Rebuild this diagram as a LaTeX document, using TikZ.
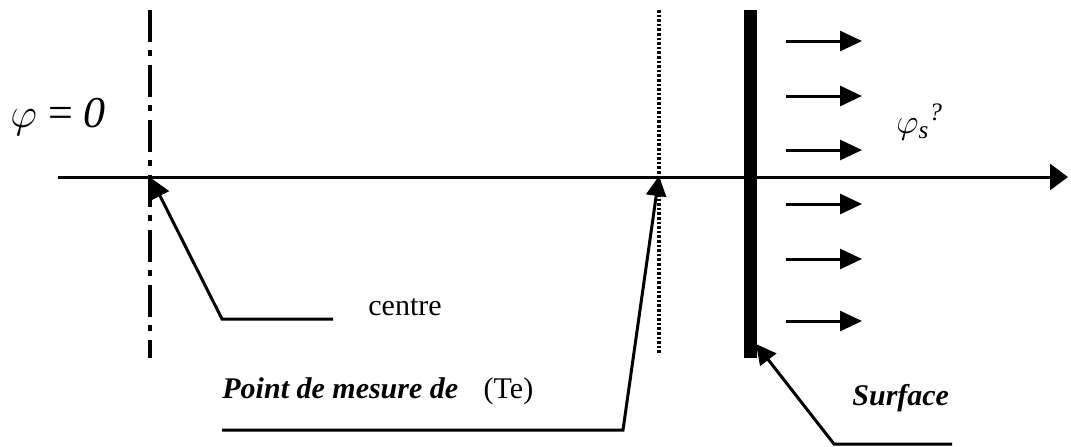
\documentclass[tikz,border=0pt]{standalone}
\usepackage{fontspec}
\setmainfont{Liberation Serif}
\usetikzlibrary{arrows.meta, positioning, calc}

\tikzset{
  axisline/.style={line width=1.5pt, -{Triangle[length=9pt,width=13pt]}},
  leader/.style={line width=1.5pt, -{Triangle[length=10pt,width=10pt]}},
  flux/.style={line width=1.5pt, -{Triangle[length=11pt,width=10pt]}},
  lbl/.style={inner sep=0pt, anchor=base west, font=\fontsize{15}{18}\selectfont},
}

\begin{document}
\begin{tikzpicture}[x=0.5pt, y=-0.5pt]
    \useasboundingbox (0,0) rectangle (1071,446);

    % Axis
    \coordinate (axstart) at (58,177);
    \coordinate (axend) at (1068,177);
    \draw[axisline] (axstart) -- (axend);

    % Centre line (dash dot)
    \coordinate (ctrtop) at (150,10);
    \coordinate (ctrbot) at (150,358);
    \draw[line width=2pt, dash pattern=on 16pt off 4pt on 3pt off 4.5pt] (ctrtop) -- (ctrbot);

    % Measuring point line (dotted)
    \coordinate (mestop) at (659,10);
    \coordinate (mesbot) at (659,355);
    \draw[line width=2.2pt, dash pattern=on 1.3pt off 1pt] (mestop) -- (mesbot);

    % Surface
    \coordinate (surftop) at (750,10);
    \coordinate (surfbot) at (750,358);
    \draw[line width=6.5pt] (surftop) -- (surfbot);

    % Flux arrows leaving the surface
    \foreach \y in {41,96,150,204,259,321} {
        \draw[flux] (786,\y) -- (862,\y);
    }

    % Labels
    \node[lbl, font=\fontsize{22}{26}\selectfont] (phizero) at (10,127) {$\varphi$ = \textit{0}};
    \node[lbl, font=\fontsize{18}{21}\selectfont] (phis) at (896,133)
        {$\varphi$\textsubscript{\textit{s}}\textsuperscript{\textit{?}}};
    \node[lbl] (centre) at (368,315) {centre};
    \node[lbl] (mesure) at (222,398) {\textbf{\textit{Point de mesure de}}\hspace{0.85em}(Te)};
    \node[lbl] (surface) at (852,405) {\textbf{\textit{Surface}}};

    % Leaders
    \coordinate (ctrpt) at (151,178);
    \coordinate (ctrA) at (333,319);
    \coordinate (ctrB) at (222,319);
    \draw[leader] (ctrA) -- (ctrB) -- (ctrpt);

    \coordinate (mespt) at (659,176);
    \coordinate (mesA) at (222,430);
    \coordinate (mesB) at (623,430);
    \draw[leader] (mesA) -- (mesB) -- (mespt);

    \coordinate (surfpt) at (756,344);
    \coordinate (surfA) at (952,444);
    \coordinate (surfB) at (834,444);
    \draw[leader] (surfA) -- (surfB) -- (surfpt);

\end{tikzpicture}
\end{document}
